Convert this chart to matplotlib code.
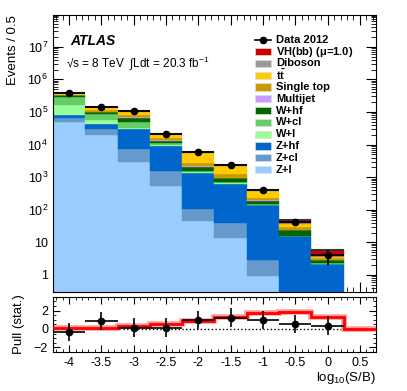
import matplotlib
matplotlib.use("Agg")
import matplotlib.pyplot as plt
import numpy as np
from matplotlib.lines import Line2D
from matplotlib.patches import Rectangle
from matplotlib.ticker import FixedLocator, MultipleLocator, LogLocator, NullFormatter

plt.rcParams["font.family"] = ["Liberation Sans", "DejaVu Sans"]
plt.rcParams["mathtext.fontset"] = "custom"
plt.rcParams["mathtext.rm"] = "Liberation Sans"
plt.rcParams["mathtext.it"] = "Liberation Sans:italic"
plt.rcParams["mathtext.bf"] = "Liberation Sans:bold"

# log10(S/B) bin centres, width 0.5
centers = [-4.0, -3.5, -3.0, -2.5, -2.0, -1.5, -1.0, -0.5, 0.0]

# backgrounds, stacked from the bottom
z_l = [5.0e4, 2.0e4, 2.9e3, 540, 46, 14, 0.95, 0.1, 0.02]
z_cl = [1.6e4, 1.0e4, 4.5e3, 960, 60, 24, 2.0, 0.1, 0.02]
z_hf = [1.2e4, 1.3e4, 2.26e4, 7.8e3, 1.2e3, 600, 137, 15, 2.1]
w_l = [8.2e4, 1.4e4, 2.0e3, 700, 100, 20, 2.0, 0.3, 0.05]
w_cl = [1.36e5, 2.9e4, 1.8e4, 1.2e3, 150, 40, 5.0, 0.5, 0.1]
w_hf = [2.4e4, 1.4e4, 1.7e4, 1.8e3, 550, 230, 45, 8, 0.55]
multijet = [5.0e3, 3.0e3, 2.0e3, 300, 50, 20, 3, 0.3, 0.05]
single_top = [1.5e4, 8.0e3, 9.0e3, 2.2e3, 500, 300, 35, 5, 0.5]
ttbar = [3.0e4, 3.0e4, 2.5e4, 5.5e3, 2.9e3, 1.0e3, 150, 8, 0.2]
diboson = [3.0e3, 2.0e3, 2.0e3, 400, 150, 60, 10, 2, 0.2]
vh = [50, 40, 30, 25, 20, 15, 8, 10, 2.2]

data = [3.9e5, 1.45e5, 1.1e5, 2.1e4, 5.7e3, 2.3e3, 390, 42, 4]
data_err = [620, 380, 330, 145, 75, 48, 20, 6.5, 2]

# pull panel
pull = [-0.36, 0.87, 0.15, 0.15, 0.98, 1.24, 0.98, 0.55, 0.36]
pull_err = [1.0, 1.0, 1.0, 1.0, 1.0, 1.0, 1.0, 1.0, 1.0]
sig_edges = [-4.25, -3.75, -3.25, -2.75, -2.25, -1.75, -1.25, -0.75, -0.25, 0.25, 0.75]
sig_pull = [0.07, 0.15, 0.36, 0.5, 0.87, 1.35, 1.75, 1.82, 1.35, 0.0]

components = [
    ("Z+l", z_l, "#99ccff"),
    ("Z+cl", z_cl, "#6699cc"),
    ("Z+hf", z_hf, "#0066cc"),
    ("W+l", w_l, "#99ff99"),
    ("W+cl", w_cl, "#66cc66"),
    ("W+hf", w_hf, "#006600"),
    ("Multijet", multijet, "#cc99ff"),
    ("Single top", single_top, "#cc9900"),
    ("$\\mathbf{t\\bar{t}}$", ttbar, "#ffcc00"),
    ("Diboson", diboson, "#999999"),
    ("VH(bb) ($\\mathbf{\\mu}$=1.0)", vh, "#cc0000"),
]

fig = plt.figure(figsize=(4.07, 3.91), dpi=100)
ax = fig.add_axes([0.130, 0.252, 0.794, 0.710])
axp = fig.add_axes([0.130, 0.100, 0.794, 0.141])

bottom = np.zeros(len(centers))
for name, vals, col in components:
    ax.bar(centers, vals, width=0.5, bottom=bottom, color=col,
           edgecolor=col, linewidth=0.3, zorder=2)
    bottom = bottom + np.array(vals)

# dark band on top of the stack
ax.hlines(bottom, np.array(centers) - 0.25, np.array(centers) + 0.25,
          color="#333333", linewidth=1.5, zorder=3)
ax.errorbar(centers, data, xerr=0.25, yerr=data_err, fmt="o", color="black",
            markersize=4.5, elinewidth=1.2, capsize=0, zorder=5)

ax.set_yscale("log")
ax.set_xlim(-4.25, 0.75)
ax.set_ylim(0.29, 9.5e7)
ax.yaxis.set_major_locator(FixedLocator([1, 10, 1e2, 1e3, 1e4, 1e5, 1e6, 1e7]))
ax.set_yticklabels(["1", "10", "$10^{2}$", "$10^{3}$", "$10^{4}$", "$10^{5}$",
                    "$10^{6}$", "$10^{7}$"])
ax.yaxis.set_minor_locator(LogLocator(base=10, subs=np.arange(2, 10), numticks=20))
ax.yaxis.set_minor_formatter(NullFormatter())
ax.xaxis.set_major_locator(MultipleLocator(0.5))
ax.xaxis.set_minor_locator(MultipleLocator(0.1))
ax.tick_params(axis="x", labelbottom=False)
for a in (ax, axp):
    a.tick_params(which="both", direction="in", top=True, right=True,
                  labelsize=9)
    a.tick_params(which="major", length=7)
    a.tick_params(which="minor", length=3.5)
ax.set_ylabel("Events / 0.5", fontsize=9.5, loc="top", labelpad=6)

ax.text(0.055, 0.905, "ATLAS", transform=ax.transAxes, fontsize=10,
        fontweight="bold", fontstyle="italic", va="center")
ax.text(0.04, 0.825, "\u221as = 8 TeV  \u222bLdt = 20.3 fb$^{-1}$",
        transform=ax.transAxes, fontsize=8.5, va="center")

# legend, one row per entry
leg_x0, leg_x1, leg_tx = 0.625, 0.675, 0.69
leg_y0, leg_dy, box_h = 0.910, 0.0425, 0.026
ax.add_line(Line2D([leg_x0, leg_x1], [leg_y0, leg_y0], color="black", lw=1.2,
                   transform=ax.transAxes, zorder=6))
ax.plot([(leg_x0 + leg_x1) / 2], [leg_y0], "o", color="black", markersize=4.5,
        transform=ax.transAxes, zorder=6)
ax.text(leg_tx, leg_y0, "Data 2012", transform=ax.transAxes, fontsize=8,
        fontweight="bold", va="center", zorder=6)
for i, (name, vals, col) in enumerate(components[::-1]):
    y = leg_y0 - (i + 1) * leg_dy
    ax.add_patch(Rectangle((leg_x0, y - box_h / 2), leg_x1 - leg_x0, box_h,
                           facecolor=col, edgecolor="#dddddd", linewidth=0.5,
                           transform=ax.transAxes, zorder=6))
    ax.text(leg_tx, y, name, transform=ax.transAxes, fontsize=8,
            fontweight="bold", va="center", zorder=6)

# pull panel
axp.stairs(sig_pull, sig_edges, color="#ff9999", linewidth=4, zorder=2)
axp.stairs(sig_pull, sig_edges, color="red", linewidth=2, zorder=3)
axp.axhline(0, color="black", linestyle=":", linewidth=1, zorder=1)
axp.errorbar(centers, pull, xerr=0.25, yerr=pull_err, fmt="o", color="black",
             markersize=4.5, elinewidth=1.2, capsize=0, zorder=5)
axp.set_xlim(-4.25, 0.75)
axp.set_ylim(-2.5, 3.5)
axp.yaxis.set_major_locator(FixedLocator([-2, 0, 2]))
axp.yaxis.set_minor_locator(MultipleLocator(0.5))
axp.xaxis.set_minor_locator(MultipleLocator(0.1))
axp.set_xticks(centers + [0.5])
axp.set_xticklabels(["-4", "-3.5", "-3", "-2.5", "-2", "-1.5", "-1", "-0.5",
                     "0", "0.5"])
axp.tick_params(which="major", length=5)
axp.tick_params(which="minor", length=2.5)
axp.set_ylabel("Pull (stat.)", fontsize=9.5, labelpad=6)
axp.set_xlabel("log$_{10}$(S/B)", fontsize=9.5, loc="right", labelpad=1)

fig.savefig("out.png", dpi=100)
